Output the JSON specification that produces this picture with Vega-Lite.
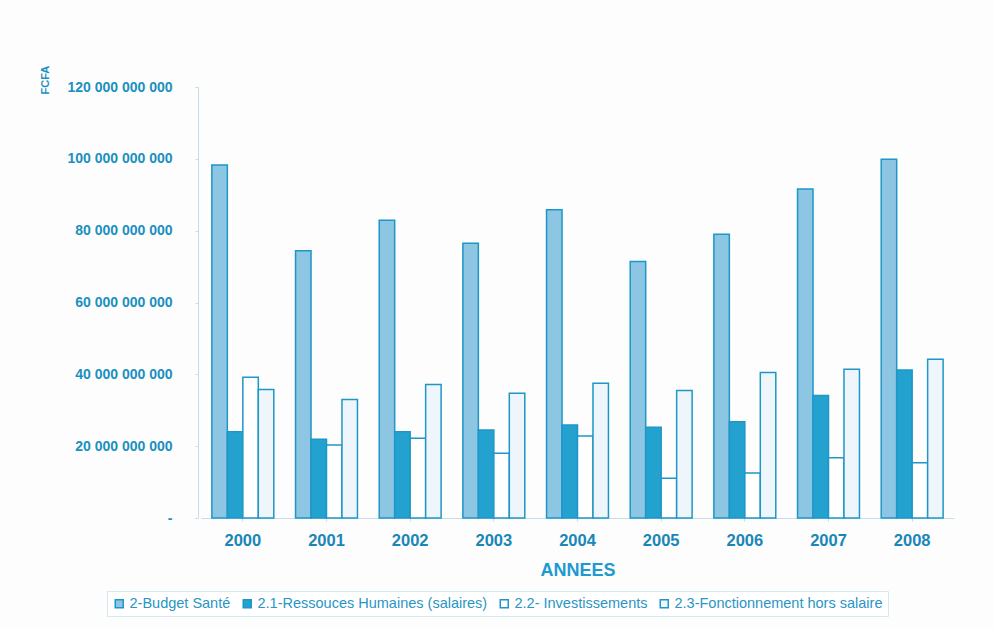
{
  "$schema": "https://vega.github.io/schema/vega-lite/v6.json",
  "autosize": "none",
  "width": 753,
  "height": 431,
  "padding": {"left": 201, "top": 87, "right": 40, "bottom": 111},
  "background": "#fdfdfd",
  "config": {
    "font": "Liberation Sans",
    "view": {"stroke": null}
  },
  "data": {
    "values": [
      {"annee": "2000", "serie": "2-Budget Santé", "valeur": 98300000000},
      {"annee": "2000", "serie": "2.1-Ressouces Humaines (salaires)", "valeur": 24000000000},
      {"annee": "2000", "serie": "2.2- Investissements", "valeur": 39200000000},
      {"annee": "2000", "serie": "2.3-Fonctionnement hors salaire", "valeur": 35800000000},
      {"annee": "2001", "serie": "2-Budget Santé", "valeur": 74400000000},
      {"annee": "2001", "serie": "2.1-Ressouces Humaines (salaires)", "valeur": 21900000000},
      {"annee": "2001", "serie": "2.2- Investissements", "valeur": 20300000000},
      {"annee": "2001", "serie": "2.3-Fonctionnement hors salaire", "valeur": 33000000000},
      {"annee": "2002", "serie": "2-Budget Santé", "valeur": 82900000000},
      {"annee": "2002", "serie": "2.1-Ressouces Humaines (salaires)", "valeur": 24000000000},
      {"annee": "2002", "serie": "2.2- Investissements", "valeur": 22200000000},
      {"annee": "2002", "serie": "2.3-Fonctionnement hors salaire", "valeur": 37200000000},
      {"annee": "2003", "serie": "2-Budget Santé", "valeur": 76500000000},
      {"annee": "2003", "serie": "2.1-Ressouces Humaines (salaires)", "valeur": 24500000000},
      {"annee": "2003", "serie": "2.2- Investissements", "valeur": 18000000000},
      {"annee": "2003", "serie": "2.3-Fonctionnement hors salaire", "valeur": 34700000000},
      {"annee": "2004", "serie": "2-Budget Santé", "valeur": 85800000000},
      {"annee": "2004", "serie": "2.1-Ressouces Humaines (salaires)", "valeur": 25900000000},
      {"annee": "2004", "serie": "2.2- Investissements", "valeur": 22800000000},
      {"annee": "2004", "serie": "2.3-Fonctionnement hors salaire", "valeur": 37500000000},
      {"annee": "2005", "serie": "2-Budget Santé", "valeur": 71400000000},
      {"annee": "2005", "serie": "2.1-Ressouces Humaines (salaires)", "valeur": 25300000000},
      {"annee": "2005", "serie": "2.2- Investissements", "valeur": 11100000000},
      {"annee": "2005", "serie": "2.3-Fonctionnement hors salaire", "valeur": 35500000000},
      {"annee": "2006", "serie": "2-Budget Santé", "valeur": 79000000000},
      {"annee": "2006", "serie": "2.1-Ressouces Humaines (salaires)", "valeur": 26800000000},
      {"annee": "2006", "serie": "2.2- Investissements", "valeur": 12500000000},
      {"annee": "2006", "serie": "2.3-Fonctionnement hors salaire", "valeur": 40500000000},
      {"annee": "2007", "serie": "2-Budget Santé", "valeur": 91600000000},
      {"annee": "2007", "serie": "2.1-Ressouces Humaines (salaires)", "valeur": 34100000000},
      {"annee": "2007", "serie": "2.2- Investissements", "valeur": 16800000000},
      {"annee": "2007", "serie": "2.3-Fonctionnement hors salaire", "valeur": 41400000000},
      {"annee": "2008", "serie": "2-Budget Santé", "valeur": 99900000000},
      {"annee": "2008", "serie": "2.1-Ressouces Humaines (salaires)", "valeur": 41200000000},
      {"annee": "2008", "serie": "2.2- Investissements", "valeur": 15400000000},
      {"annee": "2008", "serie": "2.3-Fonctionnement hors salaire", "valeur": 44200000000}
    ]
  },
  "mark": {"type": "bar", "stroke": "#1e96c8", "strokeWidth": 1.5},
  "encoding": {
    "x": {
      "field": "annee", "type": "nominal",
      "scale": {"paddingInner": 0.26, "paddingOuter": 0.13},
      "axis": {
        "title": "ANNEES", "titleFontSize": 18, "titleFontWeight": "bold", "titleColor": "#1e9ad0",
        "titlePadding": 13,
        "labelAngle": 0, "labelFontSize": 16.5, "labelFontWeight": "bold", "labelColor": "#1a86b8",
        "labelPadding": 11, "domainColor": "#c5dde8", "tickColor": "#c5dde8", "tickSize": 3
      }
    },
    "xOffset": {
      "field": "serie", "type": "nominal",
      "sort": ["2-Budget Santé", "2.1-Ressouces Humaines (salaires)", "2.2- Investissements", "2.3-Fonctionnement hors salaire"],
      "scale": {"paddingInner": 0, "paddingOuter": 0}
    },
    "y": {
      "field": "valeur", "type": "quantitative",
      "scale": {"domain": [0, 120000000000], "nice": false},
      "axis": {
        "values": [0, 20000000000, 40000000000, 60000000000, 80000000000, 100000000000, 120000000000],
        "labelExpr": "datum.value == 0 ? '-' : replace(format(datum.value, ',.0f'), /,/g, ' ')",
        "labelFontSize": 14, "labelFontWeight": "bold", "labelColor": "#1a90c0", "labelPadding": 23,
        "offset": 3,
        "grid": false, "domainColor": "#c5dde8", "tickColor": "#c5dde8", "tickSize": 3,
        "title": "FCFA", "titleFontSize": 11, "titleFontWeight": "bold", "titleColor": "#1a90c0",
        "titleAngle": 270, "titleAlign": "left", "titleBaseline": "middle",
        "titleX": -153, "titleY": 7
      }
    },
    "fill": {
      "field": "serie", "type": "nominal",
      "sort": ["2-Budget Santé", "2.1-Ressouces Humaines (salaires)", "2.2- Investissements", "2.3-Fonctionnement hors salaire"],
      "scale": {
        "domain": ["2-Budget Santé", "2.1-Ressouces Humaines (salaires)", "2.2- Investissements", "2.3-Fonctionnement hors salaire"],
        "range": ["#8cc6e2", "#24a2cf", "#ffffff", "#eef6fb"]
      },
      "legend": {
        "title": null, "orient": "none", "direction": "horizontal",
        "legendX": -94, "legendY": 504,
        "symbolType": "square", "symbolSize": 64, "symbolStrokeColor": "#1e96c8", "symbolStrokeWidth": 1.5,
        "labelFontSize": 14.5, "labelColor": "#2a95c5", "labelLimit": 400, "labelOffset": 3,
        "columnPadding": 9, "padding": 5, "strokeColor": "#d6e8f0", "fillColor": "#ffffff"
      }
    }
  }
}
